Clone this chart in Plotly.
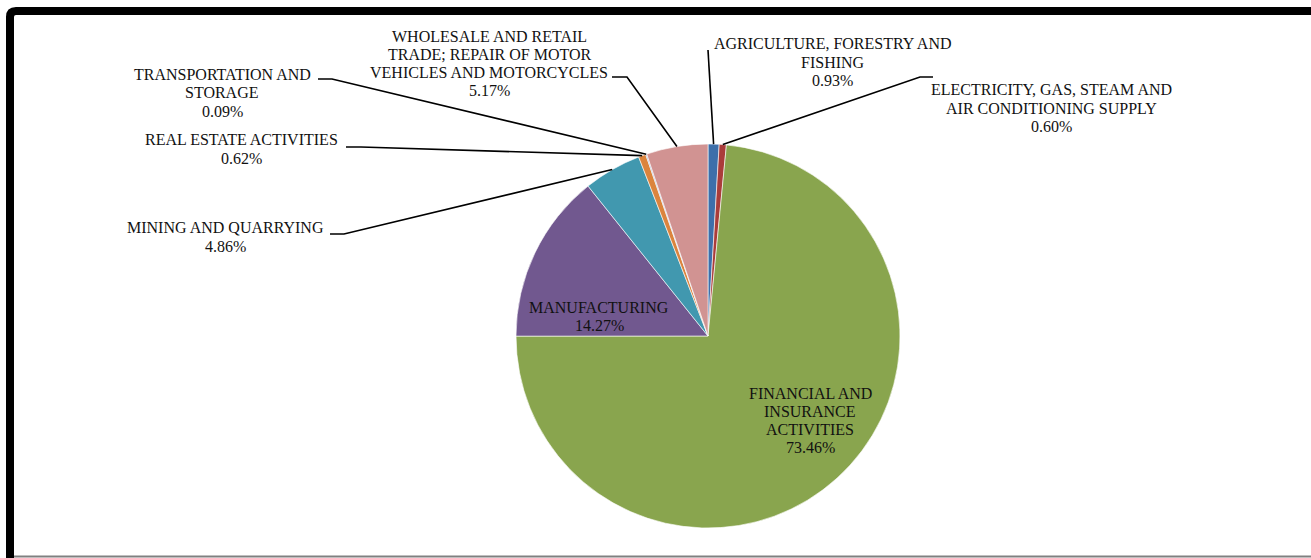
import math
import plotly.graph_objects as go

# Sector shares of the total (percent), clockwise from 12 o'clock
categories = [
    "AGRICULTURE, FORESTRY AND FISHING",
    "ELECTRICITY, GAS, STEAM AND AIR CONDITIONING SUPPLY",
    "FINANCIAL AND INSURANCE ACTIVITIES",
    "MANUFACTURING",
    "MINING AND QUARRYING",
    "REAL ESTATE ACTIVITIES",
    "TRANSPORTATION AND STORAGE",
    "WHOLESALE AND RETAIL TRADE; REPAIR OF MOTOR VEHICLES AND MOTORCYCLES",
]
shares = [0.93, 0.60, 73.46, 14.27, 4.86, 0.62, 0.09, 5.17]

# Wrapped label lines for each category
label_lines = [
    ["AGRICULTURE, FORESTRY AND", "FISHING"],
    ["ELECTRICITY, GAS, STEAM AND", "AIR CONDITIONING SUPPLY"],
    ["FINANCIAL AND", "INSURANCE", "ACTIVITIES"],
    ["MANUFACTURING"],
    ["MINING AND QUARRYING"],
    ["REAL ESTATE ACTIVITIES"],
    ["TRANSPORTATION AND", "STORAGE"],
    ["WHOLESALE AND RETAIL", "TRADE; REPAIR OF MOTOR", "VEHICLES AND MOTORCYCLES"],
]

colors = ["#3D6FAA", "#AA3C3A", "#89A54E", "#71588F", "#4198AF",
          "#DB843D", "#93A9CF", "#D19392"]

W, H = 1311, 558
CX, CY, R = 708, 336, 192  # pie centre and radius in pixels
LINE_GAP = 18.2            # label line pitch in pixels


def px(x):
    return x / W


def py(y):
    return 1 - y / H


# Label block centres (pixels) and leader-line elbow points (None = inside label)
label_pos = [
    (833, 62), (1051, 108), (810, 420.5), (599, 316.5),
    (225, 237), (241, 149), (222, 93), (489, 63.5),
]
leader_start = [
    [(708, 50)],
    [(933, 77), (920, 77)],
    None,
    None,
    [(330, 234), (344, 234)],
    [(346, 147), (361, 147)],
    [(318, 79), (332, 79)],
    [(612, 77), (627, 77)],
]

fig = go.Figure(go.Pie(
    labels=categories,
    values=shares,
    sort=False,
    direction="clockwise",
    rotation=0,
    marker=dict(colors=colors, line=dict(color="white", width=0.6)),
    textinfo="none",
    hoverinfo="label+percent",
    showlegend=False,
    domain=dict(x=[px(CX - R), px(CX + R)], y=[py(CY + R), py(CY - R)]),
))

font = dict(family="Liberation Serif, Times New Roman, serif", size=16, color="#111111")
annotations = []
shapes = []
total = sum(shares)
cum = 0.0
for i, v in enumerate(shares):
    mid = (cum + v / 2) / total * 2 * math.pi
    cum += v
    lines = label_lines[i] + [f"{v:.2f}%"]
    lx, ly = label_pos[i]
    top = ly - LINE_GAP * (len(lines) - 1) / 2
    for k, line in enumerate(lines):
        annotations.append(dict(
            x=px(lx), y=py(top + k * LINE_GAP), xref="paper", yref="paper",
            text=line, showarrow=False, xanchor="center", yanchor="middle",
            font=font,
        ))
    if leader_start[i]:
        ex = CX + R * math.sin(mid)
        ey = CY - R * math.cos(mid)
        pts = leader_start[i] + [(ex, ey)]
        path = "M " + " L ".join(f"{px(x):.5f},{py(y):.5f}" for x, y in pts)
        shapes.append(dict(type="path", xref="paper", yref="paper", path=path,
                           line=dict(color="black", width=1.6)))

# Chart frame: heavy rounded top-left border, thin grey bottom rule
frame = (f"M {px(10):.5f},{py(H + 5):.5f} L {px(10):.5f},{py(17):.5f} "
         f"Q {px(10):.5f},{py(11):.5f} {px(16):.5f},{py(11):.5f} "
         f"L {px(W + 10):.5f},{py(11):.5f}")
shapes.append(dict(type="path", xref="paper", yref="paper", path=frame,
                   line=dict(color="black", width=8)))
shapes.append(dict(type="line", xref="paper", yref="paper",
                   x0=px(14), x1=px(W + 5), y0=py(556.5), y1=py(556.5),
                   line=dict(color="#808080", width=2)))

fig.update_layout(
    width=W, height=H,
    margin=dict(l=0, r=0, t=0, b=0),
    paper_bgcolor="white",
    plot_bgcolor="white",
    annotations=annotations,
    shapes=shapes,
)

fig.write_html("out.html")
